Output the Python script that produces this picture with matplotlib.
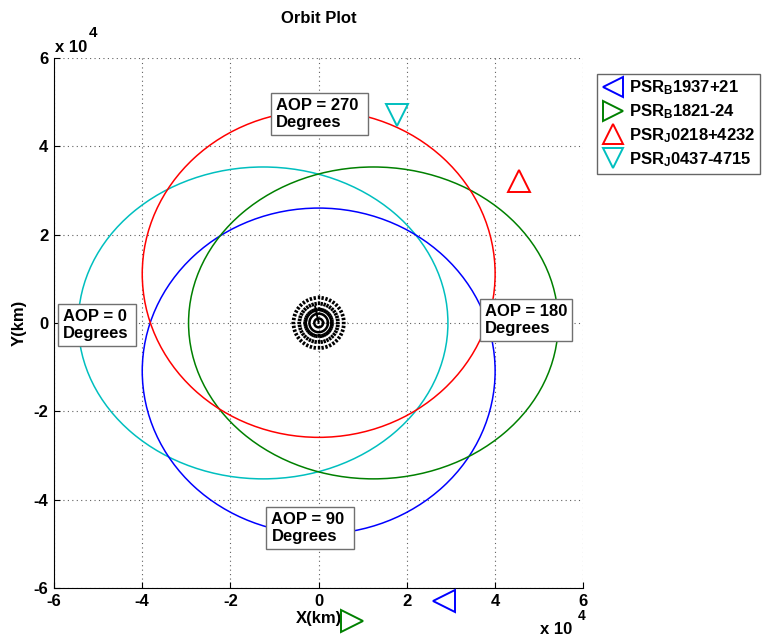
import numpy as np
import matplotlib
matplotlib.use("Agg")
import matplotlib.pyplot as plt
from matplotlib.patches import Ellipse
from matplotlib.lines import Line2D

plt.rcParams['font.family'] = ['Liberation Sans', 'DejaVu Sans']
plt.rcParams['font.weight'] = 'bold'
plt.rcParams['axes.unicode_minus'] = False
plt.rcParams['mathtext.fontset'] = 'custom'
plt.rcParams['mathtext.rm'] = 'Liberation Sans:bold'
plt.rcParams['mathtext.it'] = 'Liberation Sans:bold'
plt.rcParams['mathtext.bf'] = 'Liberation Sans:bold'

# === orbits (units of 1e4 km)
aop_deg = [0, 90, 180, 270]
orbit_colors = ['#00bfbf', '#0000ff', '#008000', '#ff0000']
orbit_cx = [-1.26, 0.0, 1.24, 0.0]
orbit_cy = [0.0, -1.09, 0.0, 1.11]
orbit_semi_x = [4.19, 4.0, 4.19, 4.0]
orbit_semi_y = [3.53, 3.69, 3.53, 3.70]

# === AOP label positions
label_text = ['AOP = 0 \nDegrees', 'AOP = 90 \nDegrees', 'AOP = 180\nDegrees', 'AOP = 270 \nDegrees']
label_x = [-5.80, -1.07, 3.77, -0.96]
label_y = [-0.05, -4.64, 0.07, 4.73]

# === pulsar directions (markers)
psr_names = [r'PSR$_B$1937+21', r'PSR$_B$1821-24', r'PSR$_J$0218+4232', r'PSR$_J$0437-4715']
psr_x = [2.85, 0.76, 4.54, 1.78]
psr_y = [-6.30, -6.75, 3.21, 4.70]
psr_markers = ['<', '>', '^', 'v']
psr_colors = ['#0000ff', '#008000', '#ff0000', '#00bfbf']

# === Earth
earth_radius = 0.66
n_meridians = 40
earth_rings = [0.10, 0.21]
earth_axis_tip = (-0.08, 0.37)

fig = plt.figure(figsize=(7.83, 6.36), dpi=100)
ax = fig.add_axes([0.069, 0.0755, 0.676, 0.8335])

for cx, cy, sx, sy, c in zip(orbit_cx, orbit_cy, orbit_semi_x, orbit_semi_y, orbit_colors):
    ax.add_patch(Ellipse((cx, cy), 2 * sx, 2 * sy, fill=False, ec=c, lw=1.1, zorder=3))

# Earth: dotted meridians seen from the pole + a few rings
for k in range(n_meridians):
    th = 2 * np.pi * k / n_meridians
    ax.plot([0.26 * np.cos(th), earth_radius * np.cos(th)],
            [0.26 * np.sin(th), earth_radius * np.sin(th)],
            color='k', ls=(0, (1.6, 0.9)), lw=1.7, zorder=4)
t = np.linspace(0, 2 * np.pi, 200)
for r in earth_rings:
    ax.plot(r * np.cos(t), r * np.sin(t), color='k', lw=1.8, zorder=4)
ax.plot(0.30 * np.cos(t), 0.30 * np.sin(t), color='k', ls=(0, (1, 2)), lw=1.0, zorder=4)
ax.plot([0, earth_axis_tip[0]], [0, earth_axis_tip[1]], color='k', lw=1.4, zorder=4)

for txt, x, y in zip(label_text, label_x, label_y):
    ax.text(x, y, txt, ha='left', va='center', fontsize=12, fontweight='bold',
            linespacing=1.15, zorder=6,
            bbox=dict(boxstyle='square,pad=0.3', fc='white', ec='#707070', lw=1.0))

for x, y, m, c in zip(psr_x, psr_y, psr_markers, psr_colors):
    ax.plot(x, y, marker=m, ms=16, mfc='none', mec=c, mew=1.4, ls='none',
            clip_on=False, zorder=7)

ax.set_xlim(-6, 6)
ax.set_ylim(-6, 6)
ax.set_xticks(np.arange(-6, 7, 2))
ax.set_yticks(np.arange(-6, 7, 2))
ax.grid(True, color='#606060', ls=(0, (1, 3)), lw=0.8)
ax.set_axisbelow(True)
ax.spines['top'].set_visible(False)
ax.spines['right'].set_visible(False)
ax.tick_params(direction='in', length=4, labelsize=12, pad=4)
for lab in ax.get_xticklabels() + ax.get_yticklabels():
    lab.set_fontweight('bold')

ax.set_title('Orbit Plot', fontsize=12, fontweight='bold', pad=25)
ax.set_xlabel('X(km)', fontsize=12, fontweight='bold', labelpad=2)
ax.set_ylabel('Y(km)', fontsize=12, fontweight='bold', labelpad=5)

fig.text(55 / 783, 1 - 47 / 636, 'x 10', fontsize=12, fontweight='bold', va='center')
fig.text(89 / 783, 1 - 33 / 636, '4', fontsize=11, fontweight='bold', va='center')
fig.text(540 / 783, 1 - 629 / 636, 'x 10', fontsize=12, fontweight='bold', va='center')
fig.text(578 / 783, 1 - 616 / 636, '4', fontsize=10, fontweight='bold', va='center')

handles = [Line2D([], [], marker=m, ms=15, mfc='none', mec=c, mew=1.4, ls='none')
           for m, c in zip(psr_markers, psr_colors)]
leg = fig.legend(handles, psr_names, loc='upper left', bbox_to_anchor=(0.763, 0.884),
                 frameon=True, fancybox=False, edgecolor='#404040',
                 handlelength=1.3, handletextpad=0.3, labelspacing=0.3,
                 borderpad=0.3, borderaxespad=0, prop={'weight': 'bold', 'size': 12})
leg.get_frame().set_linewidth(1.0)

fig.savefig('out.png', dpi=100)
